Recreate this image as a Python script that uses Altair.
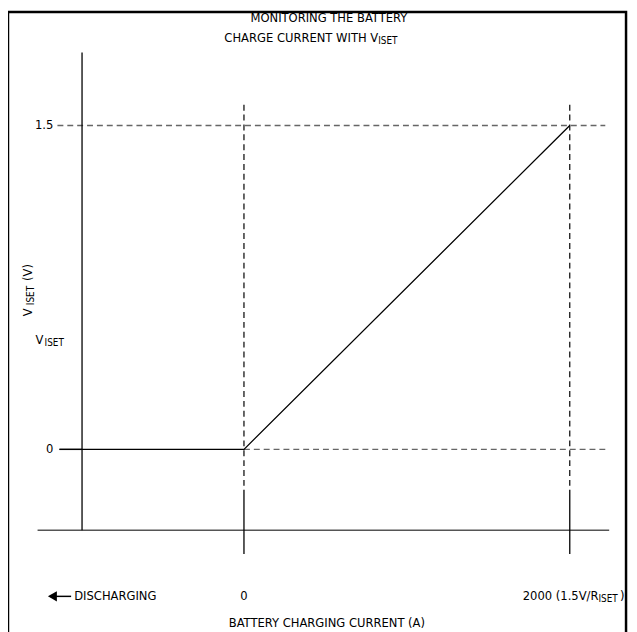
import altair as alt
import pandas as pd

# ---- data values (current in A, voltage in V) ----
curve_x = [-1133, 0, 2000]
curve_y = [0.0, 0.0, 1.5]

# axis ranges
yaxis_x = -994
yaxis_y = [-0.375, 1.838]
xaxis_x = [-1267, 2242]
xaxis_y = -0.375
tick_x = [0, 2000]
tick_y = [-0.485, -0.1875]
vdash_y = [-0.169, 1.605]
hdash_15_x = [-1145, 2218]
hdash_0_x = [0, 2218]
ytick0_x = [-1133, -994]

x_dom = [-1448.5, 2363.6]
y_dom = [-0.8277, 2.0259]

FONT = "DejaVu Sans Condensed, Liberation Sans, sans-serif"
FS = 13
SUB = 10

xs = alt.Scale(domain=x_dom, nice=False, zero=False)
ys = alt.Scale(domain=y_dom, nice=False, zero=False)
X = lambda f: alt.X(f, type="quantitative", scale=xs, axis=None)
Y = lambda f: alt.Y(f, type="quantitative", scale=ys, axis=None)

def rules(df, color, width, dash=None):
    kw = dict(color=color, strokeWidth=width, clip=False)
    if dash:
        kw["strokeDash"] = dash
    return alt.Chart(df).mark_rule(**kw).encode(x=X("x"), x2="x2", y=Y("y"), y2="y2")

yaxis_df = pd.DataFrame({"x": [yaxis_x], "x2": [yaxis_x], "y": [yaxis_y[0]], "y2": [yaxis_y[1]]})
ticks_df = pd.DataFrame({"x": tick_x, "x2": tick_x, "y": [tick_y[0]] * 2, "y2": [tick_y[1]] * 2})
xaxis_df = pd.DataFrame({"x": [xaxis_x[0]], "x2": [xaxis_x[1]], "y": [xaxis_y], "y2": [xaxis_y]})
vdash_df = pd.DataFrame({"x": tick_x, "x2": tick_x, "y": [vdash_y[0]] * 2, "y2": [vdash_y[1]] * 2})
hdash_df = pd.DataFrame({
    "x": [hdash_15_x[0], hdash_0_x[0]], "x2": [hdash_15_x[1], hdash_0_x[1]],
    "y": [1.5, 0.0], "y2": [1.5, 0.0],
})
ytick0_df = pd.DataFrame({"x": [ytick0_x[0]], "x2": [ytick0_x[1]], "y": [0.0], "y2": [0.0]})

curve_df = pd.DataFrame({"x": curve_x, "y": curve_y, "o": [0, 1, 2]})
curve = alt.Chart(curve_df).mark_line(color="black", strokeWidth=1.3).encode(
    x=X("x"), y=Y("y"), order="o")

frame = alt.Chart(pd.DataFrame({"a": [0]})).mark_rect(
    fill=None, stroke="black", strokeWidth=2.5, clip=False
).encode(x=alt.value(0), x2=alt.value(626), y=alt.value(0), y2=alt.value(660))

# ---- text annotations ----
def txt(items, align="center", size=FS, angle=0, dy=0, baseline="middle"):
    df = pd.DataFrame(items, columns=["x", "y", "t"])
    kw = dict(align=align, baseline=baseline, fontSize=size, font=FONT, color="black",
              dy=dy, clip=False)
    if angle:
        kw["angle"] = angle
    return alt.Chart(df).mark_text(**kw).encode(x=X("x"), y=Y("y"), text="t:N")

title1 = txt([(521, 2.0, "MONITORING THE BATTERY")])
title2 = txt([(824, 1.905, "CHARGE CURRENT WITH V")], align="right")
title2s = txt([(824, 1.905, "ISET")], align="left", size=SUB, dy=3)

ylabels = txt([(-1170, 1.5, "1.5"), (-1170, 0.0, "0")], align="right")

rot_v = txt([(-1327, 0.617, "V")], align="left", angle=270)
rot_s = txt([(-1327, 0.668, "ISET")], align="left", angle=270, size=SUB, dy=3)
rot_u = txt([(-1327, 0.780, " (V)")], align="left", angle=270)

vis_v = txt([(-1279, 0.508, "V")], align="left")
vis_s = txt([(-1224, 0.508, "ISET")], align="left", size=SUB, dy=3)

LROW = -0.681
xl0 = txt([(0, LROW, "0")])
xl2 = txt([(2176, LROW, "2000 (1.5V/R")], align="right")
xl2s = txt([(2176, LROW, "ISET")], align="left", size=SUB, dy=3)
xl2e = txt([(2309, LROW, ")")], align="left")
disch = txt([(-1042, LROW, "DISCHARGING")], align="left")
xtitle = txt([(509, -0.805, "BATTERY CHARGING CURRENT (A)")])

arrow_line = rules(pd.DataFrame({"x": [-1170], "x2": [-1061], "y": [LROW], "y2": [LROW]}),
                   "black", 1.5)
arrow_head = alt.Chart(pd.DataFrame({"x": [-1176], "y": [LROW]})).mark_point(
    shape="triangle-left", filled=True, color="black", size=110, opacity=1, clip=False
).encode(x=X("x"), y=Y("y"))

chart = alt.layer(
    frame,
    rules(hdash_df, "#666666", 1.3, [6, 4]),
    rules(vdash_df, "black", 1.2, [6, 4]),
    rules(xaxis_df, "#555555", 1.5),
    rules(ytick0_df, "#555555", 1.5),
    rules(yaxis_df, "black", 1.3),
    rules(ticks_df, "black", 1.3),
    curve,
    title1, title2, title2s, ylabels, rot_v, rot_s, rot_u, vis_v, vis_s,
    xl0, xl2, xl2s, xl2e, disch, xtitle, arrow_line, arrow_head,
).properties(
    width=629, height=624, padding=0, autosize=alt.AutoSizeParams(type="none"),
).configure_view(stroke=None)

chart.save("out.html", embed_options={"renderer": "svg", "actions": False})
